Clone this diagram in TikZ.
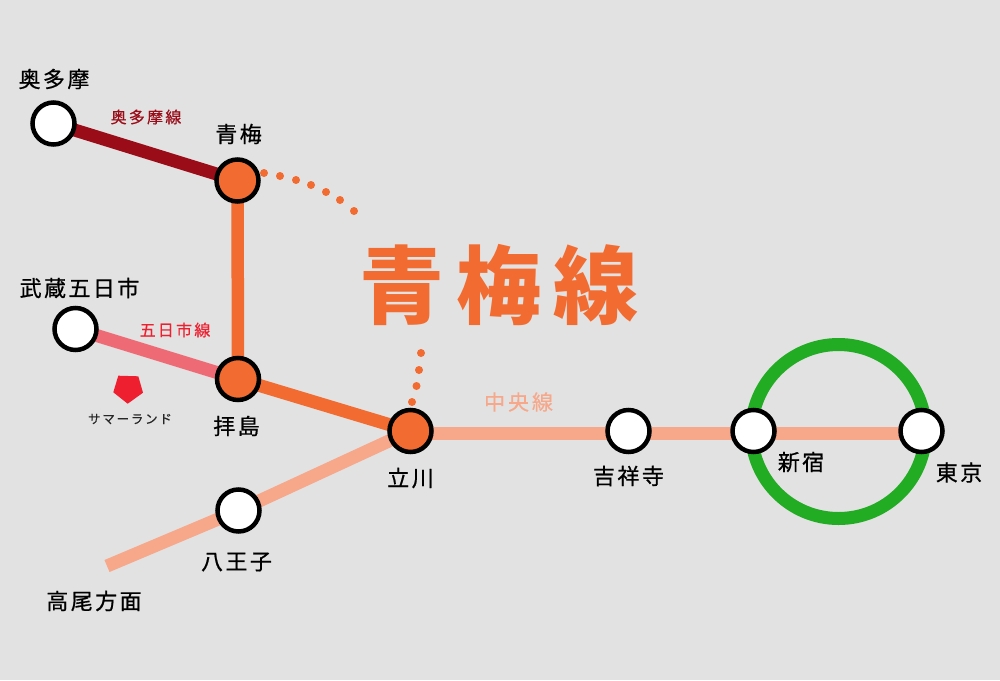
\documentclass[tikz,border=0pt]{standalone}
\usepackage{fontspec}
\newfontfamily\jp[LetterSpace=11,FakeBold=0.7]{Noto Sans CJK JP}
\newfontfamily\jps[LetterSpace=14,FakeBold=0.4]{Noto Sans CJK JP}
\newfontfamily\jpt[LetterSpace=14]{Noto Sans CJK JP}
\definecolor{bgc}{HTML}{E2E2E2}
\definecolor{orangec}{HTML}{F26B30}
\definecolor{darkredc}{HTML}{9A0C18}
\definecolor{pinkc}{HTML}{EE6A75}
\definecolor{salmonc}{HTML}{F7A78A}
\definecolor{greenc}{HTML}{22AC24}
\definecolor{redc}{HTML}{EE2030}
\pgfdeclarelayer{bglayer}
\pgfdeclarelayer{linelayer}
\pgfsetlayers{bglayer,linelayer,main}
\tikzset{
  stationw/.style={circle,draw=black,line width=4.5pt,fill=white,minimum size=42pt,inner sep=0pt,outer sep=0pt},
  stationo/.style={stationw,fill=orangec},
  rail/.style={line width=13pt},
  label/.style={font=\jp\fontsize{22}{22}\selectfont,text=black,inner sep=0pt},
  sublabel/.style={font=\jps\fontsize{16}{16}\selectfont,inner sep=0pt},
  dotc/.style={fill=orangec,draw=none}
}
\begin{document}
\begin{tikzpicture}[x=1pt,y=-1pt]
\useasboundingbox (0,0) rectangle (1000,680);
\begin{pgfonlayer}{bglayer}
\fill[bgc] (0,0) rectangle (1000,680);
\end{pgfonlayer}
% stations
\node[stationw] (okutama) at (53.5,123.5) {};
\node[stationo] (ome) at (237.5,180.5) {};
\node[stationo] (haijima) at (238,379) {};
\node[stationw] (itsuka) at (75.5,329) {};
\node[stationo] (tachikawa) at (410.5,431) {};
\node[stationw] (hachioji) at (238.5,510.5) {};
\node[stationw] (kichijoji) at (628.5,431) {};
\node[stationw] (shinjuku) at (753.5,431) {};
\node[stationw] (tokyo) at (921.5,431) {};
\coordinate (takao) at (107,566);
\coordinate (loopc) at (838.5,431.5);
% rails
\begin{pgfonlayer}{linelayer}
\draw[rail,darkredc] (okutama.center) -- (ome.center);
\draw[rail,orangec,line width=12.5pt] (ome.center) -- (haijima.center);
\draw[rail,pinkc] (itsuka.center) -- (haijima.center);
\draw[rail,orangec] (haijima.center) -- (tachikawa.center);
\draw[rail,salmonc] (tachikawa.center) -- (hachioji.center) -- (takao);
\draw[greenc,line width=13pt] (loopc) circle[radius=87];
\draw[rail,salmonc] ([yshift=-2.5pt]tachikawa.center) -- ([yshift=-2.5pt]tokyo.center);
\end{pgfonlayer}
% dots
\foreach \p in {(264,173),(280,176),(296,180),(311,185),(326,192),(340,200),(354,211),(421,353),(419,370),(416.5,386),(412,402)}
  \fill[dotc] \p circle[radius=4];
% pentagon
\fill[redc] (118.3,375.7) -- (138.3,376.3) -- (143,392.7) -- (127.7,403.7) -- (113.3,392.3) -- cycle;
% labels
\node[label] (lokutama) at (54,79) {奥多摩};
\node[label] (lome) at (238.5,134) {青梅};
\node[label] (litsuka) at (79.5,288) {武蔵五日市};
\node[label] (lhaijima) at (236.5,426) {拝島};
\node[label] (ltachikawa) at (410.5,478) {立川};
\node[label] (lkichijoji) at (628.5,476) {吉祥寺};
\node[label] (lshinjuku) at (801,462) {新宿};
\node[label] (ltokyo) at (959,472.5) {東京};
\node[label] (lhachioji) at (236.5,562) {八王子};
\node[label] (ltakao) at (94,601) {高尾方面};
\node[sublabel,text=darkredc] (lokuline) at (146,117) {奥多摩線};
\node[sublabel,text=redc] (litsline) at (175,330) {五日市線};
\node[font=\jps\fontsize{21}{21}\selectfont,text=salmonc,inner sep=0pt] (lchuo) at (518.5,402) {中央線};
\node[font=\jps\fontsize{12.5}{12.5}\selectfont,text=black!85,inner sep=0pt] (lsummer) at (130,419) {サマーランド};
\node[font=\jpt\bfseries\fontsize{85}{85}\selectfont,text=orangec,inner sep=0pt] (ltitle) at (499,285) {青梅線};
\end{tikzpicture}
\end{document}
